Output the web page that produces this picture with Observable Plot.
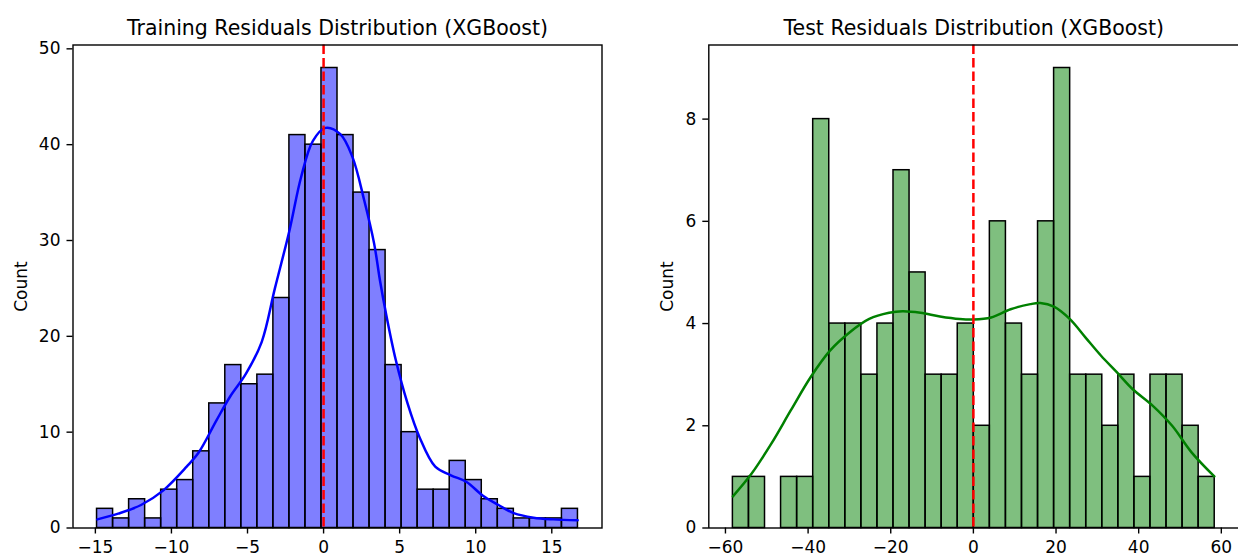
<!DOCTYPE html>
<html>
<head>
<meta charset="utf-8">
<script src="https://cdn.jsdelivr.net/npm/d3@7"></script>
<script src="https://cdn.jsdelivr.net/npm/@observablehq/plot@0.6"></script>
<style>
  html, body { margin: 0; padding: 0; background: #ffffff; overflow: hidden; }
  #wrap { position: relative; width: 1238px; height: 557px; overflow: hidden; background: #fff; }
  #wrap > svg { position: absolute; top: 0; }
</style>
</head>
<body>
<div id="wrap"></div>
<script>
// ---------- data ----------
const trainTitle = "Training Residuals Distribution (XGBoost)";
const testTitle = "Test Residuals Distribution (XGBoost)";
const yLabel = "Count";

// Training residual histogram (30 bins)
const trainCounts = [2, 1, 3, 1, 4, 5, 8, 13, 17, 15, 16, 24, 41, 40, 48, 41, 35, 29, 17, 10, 4, 4, 7, 5, 3, 2, 1, 1, 1, 2];
const trainRange = [-14.89, 16.72];
// Training KDE curve (in count units)
const trainKdeX = [-14.87, -13.5, -12.0, -10.55, -9.0, -8.2, -7.05, -6.15, -5.1, -4.07, -3.2, -2.25, -1.48, -0.7, 0.13, 1.1, 1.9, 2.67, 3.32, 3.71, 4.1, 4.75, 5.52, 6.3, 7.34, 8.37, 9.4, 10.45, 11.5, 12.5, 13.8, 15.1, 16.7];
const trainKdeY = [0.9, 1.5, 2.4, 3.9, 6.4, 7.9, 11.2, 13.7, 16.1, 19.4, 25.0, 31.0, 36.6, 40.4, 41.75, 41.1, 38.7, 34.2, 29.7, 25.8, 22.4, 17.5, 13.0, 9.5, 6.4, 5.5, 4.8, 3.4, 2.4, 1.55, 1.08, 0.9, 0.8];

// Test residual histogram (30 bins)
const testCounts = [1, 1, 0, 1, 1, 8, 4, 4, 3, 4, 7, 5, 3, 3, 4, 2, 6, 4, 3, 6, 9, 3, 3, 2, 3, 1, 3, 3, 2, 1];
const testRange = [-58.2, 58.4];
const testKdeX = [-58.2, -53.7, -48.9, -44.2, -39.4, -34.7, -29.9, -25.2, -20.4, -17.1, -12.8, -8.1, -3.3, 0, 4.3, 9.0, 13.8, 16.2, 19.5, 23.3, 27.1, 30.9, 34.7, 38.5, 43.3, 48.1, 52.8, 58.3];
const testKdeY = [0.62, 1.06, 1.65, 2.3, 2.95, 3.47, 3.83, 4.09, 4.21, 4.24, 4.21, 4.14, 4.09, 4.08, 4.12, 4.28, 4.38, 4.40, 4.33, 4.09, 3.73, 3.37, 3.05, 2.72, 2.40, 2.0, 1.48, 1.01];

const trainXTicks = [-15, -10, -5, 0, 5, 10, 15];
const trainYTicks = [0, 10, 20, 30, 40, 50];
const testXTicks = [-60, -40, -20, 0, 20, 40, 60];
const testYTicks = [0, 2, 4, 6, 8];
const zeroLine = [0];

// ---------- helpers ----------
function makeBins(counts, range) {
  const n = counts.length, w = (range[1] - range[0]) / n;
  return counts.map((c, i) => ({ x1: range[0] + i * w, x2: range[0] + (i + 1) * w, y1: 0, y2: c }));
}
function pad(range) { const p = 0.05 * (range[1] - range[0]); return [range[0] - p, range[1] + p]; }

function panel(o) {
  const bins = makeBins(o.counts, o.range);
  const kde = o.kdeX.map((x, i) => ({ x, y: o.kdeY[i] }));
  const yMax = d3.max(o.counts) * 1.05;
  const svg = Plot.plot({
    width: o.width, height: 557,
    marginLeft: o.marginLeft, marginRight: o.marginRight, marginTop: 44.5, marginBottom: 29.5,
    style: { fontFamily: "DejaVu Sans", fontSize: "17px", background: "transparent", color: "black", overflow: "visible" },
    x: { domain: pad(o.range) },
    y: { domain: [0, yMax] },
    marks: [
      Plot.rect(bins, { x1: "x1", x2: "x2", y1: "y1", y2: "y2", fill: o.fill, fillOpacity: 0.5, stroke: "black", strokeWidth: 1.5 }),
      Plot.line(kde, { x: "x", y: "y", stroke: o.line, strokeWidth: 2.5, curve: "catmull-rom" }),
      Plot.ruleX(zeroLine, { stroke: "red", strokeWidth: 2.5, strokeDasharray: "9.5,4" }),
      Plot.frame({ stroke: "black", strokeWidth: 1.4 }),
      Plot.axisX({ ticks: o.xTicks, tickSize: 6, tickPadding: 7, strokeWidth: 1.4, fontSize: 17, label: null }),
      Plot.axisY({ ticks: o.yTicks, tickSize: 6, tickPadding: 6.5, strokeWidth: 1.4, fontSize: 17, label: null }),
      Plot.text([o.title], { frameAnchor: "top", dy: -10.5, lineAnchor: "bottom", fontSize: 20.5, fill: "black" }),
      Plot.text([yLabel], { frameAnchor: "left", dx: o.labelDx, rotate: -90, lineAnchor: "middle", textAnchor: "middle", fontSize: 17, fill: "black" })
    ]
  });
  svg.style.left = o.left + "px";
  return svg;
}

const wrap = document.getElementById("wrap");
wrap.appendChild(panel({
  title: trainTitle, counts: trainCounts, range: trainRange, kdeX: trainKdeX, kdeY: trainKdeY,
  fill: "blue", line: "blue", xTicks: trainXTicks, yTicks: trainYTicks,
  left: 0, width: 620, marginLeft: 72.5, marginRight: 18.5, labelDx: -51.7
}));
wrap.appendChild(panel({
  title: testTitle, counts: testCounts, range: testRange, kdeX: testKdeX, kdeY: testKdeY,
  fill: "green", line: "green", xTicks: testXTicks, yTicks: testYTicks,
  left: 620, width: 620, marginLeft: 88.3, marginRight: 1.7, labelDx: -40.8
}));
</script>
</body>
</html>
